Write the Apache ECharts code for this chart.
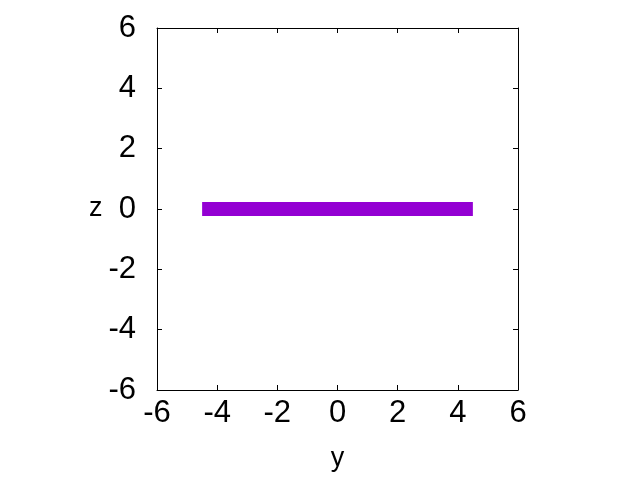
<!DOCTYPE html>
<html>
<head>
<meta charset="utf-8">
<script src="https://cdn.jsdelivr.net/npm/echarts@6/dist/echarts.min.js"></script>
<style>
  html, body { margin: 0; padding: 0; background: #fff; }
  #chart { width: 640px; height: 480px; }
</style>
</head>
<body>
<div id="chart"></div>
<script>
// data
const yValues = [-4.5, 4.5]
const zValues = [0, 0]
const axisMin = -6
const axisMax = 6
const tickStep = 2

const font = 'Liberation Sans, Arial, sans-serif'
const tickLabelStyle = { color: '#000', fontSize: 31, fontFamily: font }

function baseAxis(extra) {
  return Object.assign({
    type: 'value',
    min: axisMin,
    max: axisMax,
    interval: tickStep,
    axisLine: { show: true, onZero: false, lineStyle: { color: '#000', width: 1 } },
    axisTick: { show: true, inside: true, length: 5, lineStyle: { color: '#000' } },
    splitLine: { show: false },
  }, extra)
}

const chart = echarts.init(document.getElementById('chart'))
chart.setOption({
  animation: false,
  backgroundColor: '#fff',
  grid: { left: 157, right: 122, top: 28, bottom: 90, containLabel: false },
  xAxis: [
    baseAxis({
      position: 'bottom',
      name: 'y',
      nameLocation: 'middle',
      nameGap: 55,
      nameTextStyle: { color: '#000', fontSize: 27, fontFamily: font },
      axisLabel: Object.assign({ margin: 8 }, tickLabelStyle),
    }),
    baseAxis({ position: 'top', axisLabel: { show: false } }),
  ],
  yAxis: [
    baseAxis({
      position: 'left',
      name: 'z',
      nameLocation: 'middle',
      nameRotate: 0,
      nameGap: 49,
      nameTextStyle: { color: '#000', fontSize: 27, fontFamily: font, padding: [0, 0, 10, 0] },
      axisLabel: Object.assign({ margin: 21, padding: [0, 0, 14, 0] }, tickLabelStyle),
    }),
    baseAxis({ position: 'right', axisLabel: { show: false } }),
  ],
  series: [
    {
      type: 'line',
      data: yValues.map((y, i) => [y, zValues[i]]),
      symbol: 'none',
      lineStyle: { color: '#9400d3', width: 14, cap: 'butt' },
    },
  ],
})
</script>
</body>
</html>
